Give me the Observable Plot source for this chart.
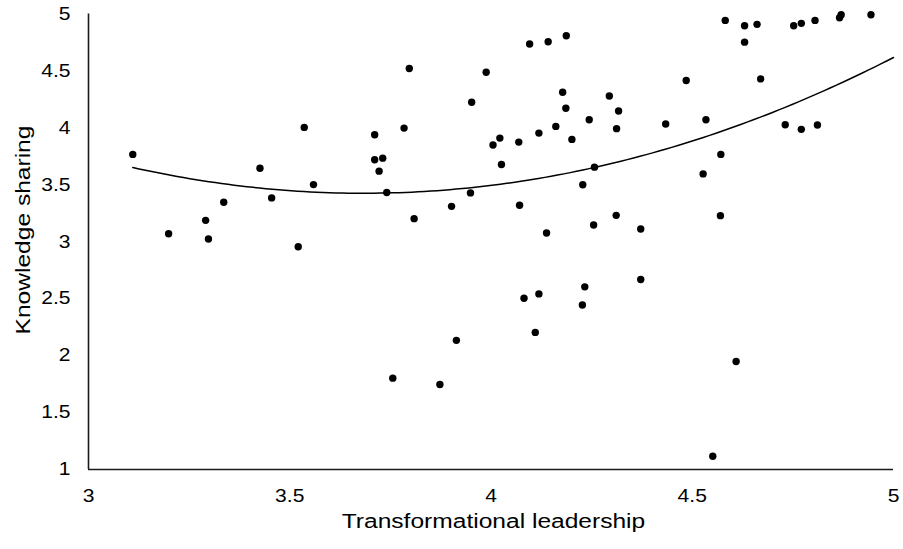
<!DOCTYPE html>
<html>
<head>
<meta charset="utf-8">
<script src="https://cdn.jsdelivr.net/npm/d3@7"></script>
<script src="https://cdn.jsdelivr.net/npm/@observablehq/plot@0.6"></script>
<style>
  html, body { margin: 0; padding: 0; background: #fff; }
</style>
</head>
<body>
<div id="chart"></div>
<script>
// Transformational leadership (x) and knowledge sharing (y)
const leadership = [
  3.110, 3.199, 3.291, 3.298, 3.336, 3.426, 3.455, 3.521, 3.536, 3.559,
  3.711, 3.711, 3.722, 3.731, 3.741, 3.756, 3.784, 3.797, 3.809, 3.873,
  3.902, 3.914, 3.949, 3.952, 3.988, 4.005, 4.022, 4.026, 4.069, 4.071,
  4.082, 4.096, 4.110, 4.119, 4.119, 4.138, 4.142, 4.161, 4.178, 4.186,
  4.187, 4.201, 4.227, 4.228, 4.233, 4.244, 4.255, 4.257, 4.294, 4.311,
  4.312, 4.317, 4.372, 4.372, 4.434, 4.485, 4.527, 4.534, 4.551, 4.570,
  4.571, 4.582, 4.609, 4.630, 4.630, 4.661, 4.670, 4.731, 4.752, 4.771,
  4.771, 4.805, 4.811, 4.866, 4.870, 4.944
];
const sharing = [
  3.767, 3.070, 3.188, 3.024, 3.347, 3.646, 3.385, 2.956, 4.004, 3.502,
  3.940, 3.720, 3.620, 3.734, 3.432, 1.802, 3.998, 4.522, 3.203, 1.746,
  3.311, 2.134, 3.429, 4.225, 4.489, 3.849, 3.910, 3.678, 3.875, 3.320,
  2.504, 4.736, 2.204, 3.954, 2.542, 3.077, 4.756, 4.013, 4.313, 4.172,
  4.809, 3.899, 2.445, 3.500, 2.604, 4.072, 3.147, 3.655, 4.280, 3.232,
  3.993, 4.148, 3.112, 2.668, 4.034, 4.416, 3.596, 4.072, 1.117, 3.229,
  3.767, 4.944, 1.949, 4.897, 4.753, 4.909, 4.430, 4.028, 4.897, 4.918,
  3.987, 4.944, 4.025, 4.967, 4.994, 4.994
];
// order-2 polynomial trendline: y = c0 + c1·x + c2·x²
const trendCoefficients = [12.7576, -5.0669, 0.6878];
const trendRange = [3.11, 5];

const xTicks = [3, 3.5, 4, 4.5, 5];
const yTicks = [1, 1.5, 2, 2.5, 3, 3.5, 4, 4.5, 5];
const xLabel = "Transformational leadership";
const yLabel = "Knowledge sharing";

const points = leadership.map((x, i) => ({x, y: sharing[i]}));

const [c0, c1, c2] = trendCoefficients;
const trend = d3.range(121).map(i => {
  const x = trendRange[0] + (trendRange[1] - trendRange[0]) * i / 120;
  return {x, y: c0 + c1 * x + c2 * x * x};
});

const fmt = d => String(d);

const chart = Plot.plot({
  width: 903,
  height: 549,
  marginTop: 13.5,
  marginLeft: 88,
  marginRight: 10,
  marginBottom: 80,
  style: {fontFamily: "'Liberation Sans', Arial, sans-serif", background: "#fff", color: "#000"},
  x: {domain: [3, 5]},
  y: {domain: [1, 5]},
  marks: [
    Plot.axisX({ticks: xTicks, tickFormat: fmt, tickSize: 0, tickPadding: 20, fontSize: 18, label: null}),
    Plot.axisY({ticks: yTicks, tickFormat: fmt, tickSize: 0, tickPadding: 18, fontSize: 18, label: null}),
    Plot.ruleX([3], {stroke: "#1a1a1a", strokeWidth: 1.6}),
    Plot.ruleY([1], {stroke: "#1a1a1a", strokeWidth: 1.6}),
    Plot.line(trend, {x: "x", y: "y", stroke: "#000", strokeWidth: 1.5}),
    Plot.dot(points, {x: "x", y: "y", r: 3.7, fill: "#000", stroke: "none"}),
    Plot.text([xLabel], {frameAnchor: "bottom", text: d => d, fontSize: 21, textAnchor: "middle", lineAnchor: "middle", dx: 2.5, dy: 51.5, fill: "#000"}),
    Plot.text([yLabel], {frameAnchor: "left", text: d => d, fontSize: 21, textAnchor: "middle", lineAnchor: "middle", rotate: -90, dx: -65.5, dy: -11.75, fill: "#000"})
  ]
});

// the reference's lettering is slightly wider than Arial: stretch text along its own baseline
const STRETCH = 1.17;
chart.querySelectorAll("text").forEach(t => {
  const tr = t.getAttribute("transform");
  if (tr) {
    t.setAttribute("transform", tr + ` scale(${STRETCH},1)`);
  } else {
    const x = +(t.getAttribute("x") || 0);
    t.setAttribute("transform", `translate(${x},0) scale(${STRETCH},1) translate(${-x},0)`);
  }
});

document.getElementById("chart").appendChild(chart);
</script>
</body>
</html>
